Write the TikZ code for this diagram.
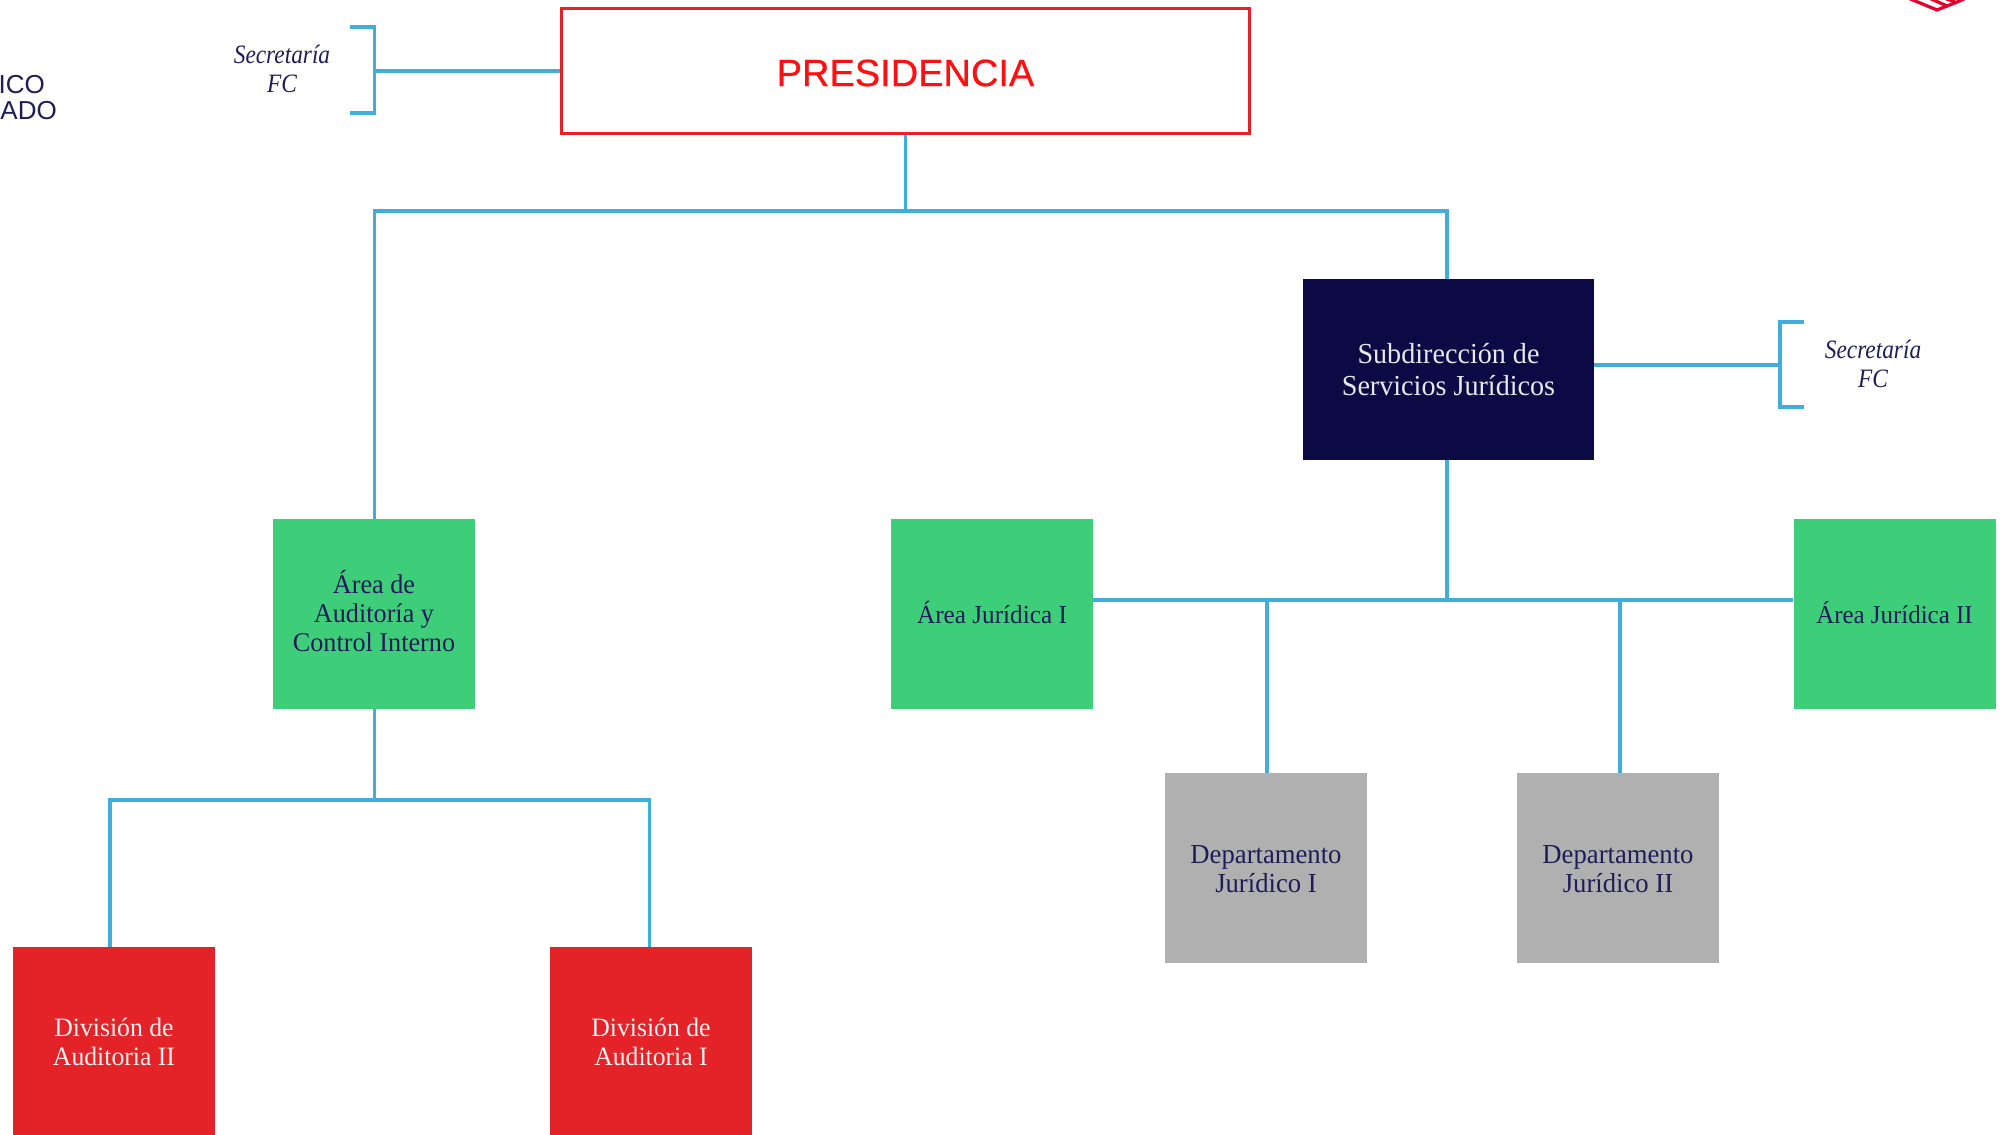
\documentclass[tikz,border=0pt]{standalone}
\usepackage{fontspec}
\setmainfont{Liberation Serif}[FakeStretch=0.97]
\newfontfamily\notefont{Liberation Serif}[FakeStretch=0.88]
\newfontfamily\presfont{Liberation Sans}[FakeBold=0.6]
\newfontfamily\clipfont{Liberation Sans}
\definecolor{lineblue}{HTML}{3FAEDA}
\definecolor{navy}{HTML}{0B0A45}
\definecolor{inktext}{HTML}{1F1C57}
\definecolor{greenbox}{HTML}{3ECE7A}
\definecolor{greybox}{HTML}{B0B0B0}
\definecolor{redbox}{HTML}{E42328}
\definecolor{logored}{HTML}{E4002B}
\definecolor{presred}{HTML}{FF1010}
\newcommand{\nudge}[2]{\raisebox{#1}[\height][\depth]{#2}}
\tikzset{
  orgbox/.style={inner sep=0pt,align=center,font=\fontsize{26.5}{29}\selectfont},
  unitsize/.style={minimum width=202pt,minimum height=190pt},
  greenunit/.style={orgbox,unitsize,fill=greenbox,text=inktext},
  greyunit/.style={orgbox,unitsize,fill=greybox,text=inktext},
  redunit/.style={orgbox,unitsize,fill=redbox,text=white!92!redbox},
  conn/.style={draw=lineblue,line width=3.05pt},
  secnote/.style={inner sep=0pt,align=center,text=inktext,font=\notefont\fontsize{26.5}{29}\selectfont\itshape},
  clipped/.style={inner sep=0pt,anchor=east,text=inktext,font=\clipfont\fontsize{26}{26}\selectfont},
  logoline/.style={draw=logored,line width=3.2pt,line join=miter},
}
\begin{document}
\begin{tikzpicture}[x=1pt,y=-1pt]
\useasboundingbox (0,0) rectangle (2003,1135);
\clip (0,0) rectangle (2003,1135);
% boxes
\node[draw=redbox,line width=3pt,minimum width=688pt,minimum height=125pt,inner sep=0pt,text=presred,font=\presfont\fontsize{38}{38}\selectfont] (pres) at (905.5,70.5) {\nudge{-2.5pt}{PRESIDENCIA}};
\node[orgbox,fill=navy,text=white!90!navy,minimum width=291pt,minimum height=181pt,font=\fontsize{29}{32}\selectfont] (sub) at (1448.5,369.5) {Subdirección de\\Servicios Jurídicos};
\node[greenunit,font=\fontsize{27}{29}\selectfont] (aud) at (374,614) {\nudge{-1.3pt}{\begin{tabular}{@{}c@{}}Área de\\Auditoría y\\Control Interno\end{tabular}}};
\node[greenunit,font=\fontsize{26}{29}\selectfont] (ji) at (992,614) {\nudge{1.3pt}{Área Jurídica I}};
\node[greenunit,font=\fontsize{25.7}{29}\selectfont] (jii) at (1894.5,614) {\nudge{1.3pt}{Área Jurídica II}};
\node[greyunit,font=\fontsize{27.5}{29}\selectfont] (di) at (1266,868) {\nudge{-4pt}{\begin{tabular}{@{}c@{}}Departamento\\Jurídico I\end{tabular}}};
\node[greyunit,font=\fontsize{27.5}{29}\selectfont] (dii) at (1618,868) {\nudge{-4pt}{\begin{tabular}{@{}c@{}}Departamento\\Jurídico II\end{tabular}}};
\node[redunit] (dvii) at (114,1042) {División de\\Auditoria II};
\node[redunit] (dvi) at (651,1042) {División de\\Auditoria I};
% junctions
\coordinate (top) at (905.5,211);
\coordinate (topl) at (374.5,211);
\coordinate (topr) at (1447,211);
\coordinate (mid) at (1447,600);
\coordinate (dropi) at (1267,600);
\coordinate (dropii) at (1620,600);
\coordinate (low) at (374.5,800);
\coordinate (lowl) at (110,800);
\coordinate (lowr) at (649.5,800);
\coordinate (bl) at (374.5,71);
\coordinate (blt) at (350,27);
\coordinate (blb) at (350,113);
\coordinate (blv1) at (374.5,27);
\coordinate (blv2) at (374.5,113);
\coordinate (br) at (1780,365);
\coordinate (brt) at (1804,322);
\coordinate (brb) at (1804,407);
\coordinate (brv1) at (1780,322);
\coordinate (brv2) at (1780,407);
% connectors
\draw[conn] (pres.south -| top) -- (top);
\draw[conn] (aud.north -| topl) -- (topl) -- (topr) -- (sub.north -| topr);
\draw[conn] (sub.south -| mid) -- (mid);
\draw[conn] (ji.east |- mid) -- (jii.west |- mid);
\draw[conn] (dropi) -- (di.north -| dropi);
\draw[conn] (dropii) -- (dii.north -| dropii);
\draw[conn] (aud.south -| low) -- (low);
\draw[conn] (dvii.north -| lowl) -- (lowl) -- (lowr) -- (dvi.north -| lowr);
\draw[conn] (pres.west |- bl) -- (bl);
\draw[conn] (blt) -- (blv1) -- (blv2) -- (blb);
\draw[conn] (sub.east |- br) -- (br);
\draw[conn] (brt) -- (brv1) -- (brv2) -- (brb);
% side notes
\node[secnote] (secl) at (282,69) {Secretaría\\FC};
\node[secnote] (secr) at (1873,364) {Secretaría\\FC};
\node[clipped] (ico) at (45,85) {ICO};
\node[clipped] (ado) at (57,111) {ADO};
% logo fragment
\draw[logoline] (1908,-2) -- (1937,10) -- (1947,6);
\draw[logoline] (1929,-2) -- (1947,6) -- (1956,2.5);
\draw[logoline] (1944,-2) -- (1956,2.5) -- (1964,-1);
\end{tikzpicture}
\end{document}
